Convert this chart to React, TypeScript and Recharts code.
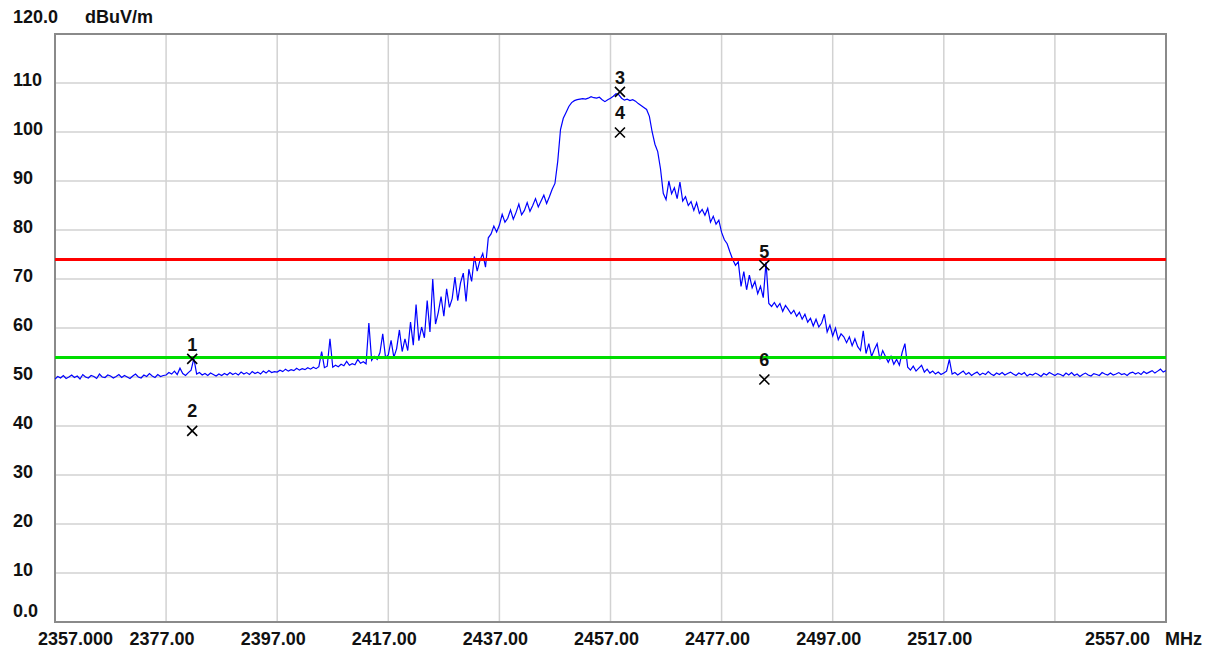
import React from 'react';
import {
  ComposedChart,
  Line,
  Scatter,
  XAxis,
  YAxis,
  CartesianGrid,
  ReferenceLine,
  ReferenceArea,
} from 'recharts';

// ---------- data ----------
const SWEEP_STEP = 0.5; // MHz between trace points
const FREQ_MIN = 2357;
const FREQ_MAX = 2557;
const LEVEL_MIN = 0;
const LEVEL_MAX = 120;

const lv2357 = [49.6, 50.1, 49.8, 50.3, 49.7, 50.0, 50.4, 49.9, 50.2, 49.6, 50.5, 50.0, 49.8, 50.3, 50.1, 49.7, 50.6, 50.0, 49.9, 50.4];
const lv2367 = [50.2, 49.8, 50.1, 50.5, 49.9, 50.3, 50.0, 49.7, 50.2, 50.6, 50.0, 49.8, 50.4, 50.1, 50.7, 50.2, 49.9, 50.5, 50.1, 50.3];
const lv2377 = [50.4, 50.9, 50.6, 51.2, 50.5, 51.8, 50.7, 50.3, 50.9, 51.4, 53.8, 50.6, 50.9, 50.4, 50.7, 50.3, 50.8, 50.5, 50.2, 50.6];
const lv2387 = [50.3, 50.7, 50.4, 50.9, 50.5, 50.8, 50.4, 51.0, 50.6, 50.9, 50.5, 51.1, 50.7, 51.0, 50.6, 51.2, 50.8, 51.3, 50.9, 51.1];
const lv2397 = [51.0, 51.4, 51.1, 51.6, 51.2, 51.5, 51.3, 51.8, 51.4, 51.7, 51.5, 51.9, 51.6, 52.0, 51.7, 52.1, 55.2, 51.9, 52.2, 57.8];
const lv2407 = [52.0, 52.4, 52.1, 52.6, 52.3, 53.2, 52.4, 52.7, 52.5, 53.6, 52.8, 53.1, 52.7, 61.0, 53.4, 54.2, 53.6, 55.0, 58.8, 54.0];
const lv2417 = [54.5, 57.5, 54.0, 55.8, 59.6, 55.2, 57.8, 55.4, 61.2, 56.5, 64.8, 57.4, 60.2, 58.0, 65.6, 59.2, 70.0, 60.8, 63.2, 66.4];
const lv2427 = [62.4, 68.0, 64.2, 66.0, 70.4, 65.6, 69.2, 71.2, 65.4, 72.0, 69.5, 74.6, 71.6, 73.8, 75.2, 72.4, 78.4, 79.2, 80.8, 79.6];
const lv2437 = [81.0, 83.2, 81.6, 82.4, 84.1, 82.2, 83.6, 85.3, 83.1, 84.0, 85.6, 83.8, 85.0, 86.4, 84.7, 85.9, 87.1, 85.4, 86.8, 88.3];
const lv2447 = [89.5, 94.0, 100.5, 102.8, 104.0, 105.2, 106.0, 106.4, 106.6, 106.7, 106.8, 106.7, 106.9, 107.2, 107.0, 106.9, 107.1, 106.6, 106.2, 106.6];
const lv2457 = [106.9, 107.3, 107.8, 107.6, 106.9, 106.5, 106.7, 106.4, 106.6, 106.3, 105.8, 105.4, 105.0, 104.6, 103.2, 100.0, 97.5, 96.0, 92.5, 87.5];
const lv2467 = [86.2, 90.0, 87.4, 88.6, 86.4, 89.8, 85.9, 86.8, 85.0, 85.8, 84.0, 85.6, 83.4, 84.2, 83.0, 84.4, 81.6, 82.8, 81.2, 82.0];
const lv2477 = [79.5, 78.0, 77.2, 75.5, 74.0, 72.8, 73.5, 68.5, 71.5, 67.8, 70.8, 68.2, 69.5, 67.0, 68.5, 66.2, 73.4, 65.0, 64.4, 65.2];
const lv2487 = [64.2, 65.0, 63.4, 64.6, 63.8, 62.9, 63.6, 62.4, 63.2, 61.8, 62.8, 61.2, 62.0, 60.4, 61.8, 60.2, 61.0, 62.8, 59.2, 60.6];
const lv2497 = [58.4, 60.0, 57.6, 58.8, 58.2, 57.0, 58.2, 56.4, 57.8, 56.2, 55.4, 59.4, 54.8, 56.8, 54.2, 55.6, 56.8, 53.6, 55.4, 54.2];
const lv2507 = [53.0, 54.2, 52.6, 53.6, 52.4, 55.0, 56.8, 52.0, 51.4, 52.2, 51.2, 51.8, 52.4, 51.0, 51.6, 50.8, 51.2, 50.6, 51.0, 50.5];
const lv2517 = [50.8, 51.2, 53.6, 50.6, 50.9, 50.4, 50.8, 51.2, 50.5, 50.9, 50.3, 50.7, 51.0, 50.4, 50.8, 50.5, 51.1, 50.6, 50.3, 50.8];
const lv2527 = [50.5, 50.9, 50.4, 50.7, 51.0, 50.6, 50.3, 50.8, 50.5, 50.9, 50.2, 50.6, 50.4, 50.8, 50.5, 50.1, 50.7, 50.4, 50.9, 50.6];
const lv2537 = [50.3, 50.7, 50.5, 50.2, 50.8, 50.4, 50.9, 50.3, 50.6, 50.1, 50.5, 50.8, 50.4, 50.2, 50.7, 50.5, 50.3, 50.9, 50.6, 50.4];
const lv2547 = [50.8, 50.4, 50.6, 50.9, 50.5, 50.7, 50.3, 50.8, 51.0, 50.6, 50.9, 50.5, 51.1, 50.7, 51.0, 51.3, 50.8, 51.2, 51.6, 51.0];
const lv2557 = [51.3];

const traceBlocks: [number, number[]][] = [
  [2357, lv2357], [2367, lv2367], [2377, lv2377], [2387, lv2387], [2397, lv2397],
  [2407, lv2407], [2417, lv2417], [2427, lv2427], [2437, lv2437], [2447, lv2447],
  [2457, lv2457], [2467, lv2467], [2477, lv2477], [2487, lv2487], [2497, lv2497],
  [2507, lv2507], [2517, lv2517], [2527, lv2527], [2537, lv2537], [2547, lv2547],
  [2557, lv2557],
];

const limitPeak = 74; // red
const limitAvg = 54; // green

const markerIds = ['1', '2', '3', '4', '5', '6'];
const markerFreqs = [2381.7, 2381.7, 2458.7, 2458.7, 2484.7, 2484.7];
const markerLevels = [53.7, 39.0, 108.2, 99.9, 72.8, 49.5];

const xTicks = [2357, 2377, 2397, 2417, 2437, 2457, 2477, 2497, 2517, 2537, 2557];
const xTickLabels = ['2357.000', '2377.00', '2397.00', '2417.00', '2437.00', '2457.00', '2477.00', '2497.00', '2517.00', '', '2557.00'];
const xUnit = 'MHz';
const yTicks = [0, 10, 20, 30, 40, 50, 60, 70, 80, 90, 100, 110, 120];
const yTickLabels = ['0.0', '10', '20', '30', '40', '50', '60', '70', '80', '90', '100', '110', '120.0'];
const yUnit = 'dBuV/m';

// ---------- derived tables ----------
const trace = traceBlocks.flatMap(([start, values]) =>
  values.map((level, j) => ({ freq: start + j * SWEEP_STEP, level }))
);
const markers = markerIds.map((id, i) => ({ id, freq: markerFreqs[i], level: markerLevels[i] }));

const FONT = '"Liberation Sans", Arial, sans-serif';
const textStyle = { fontFamily: FONT, fontWeight: 700, fontSize: 18, fill: '#111' } as const;

const XTick = (props: any) => {
  const { x, index } = props;
  const label = xTickLabels[index] ?? '';
  const y = 631;
  if (index === 0) {
    return (
      <text x={x - 17} y={y} dy="0.36em" textAnchor="start" {...textStyle}>{label}</text>
    );
  }
  if (index === xTicks.length - 1) {
    return (
      <g>
        <text x={x - 16} y={y} dy="0.36em" textAnchor="end" {...textStyle}>{label}</text>
        <text x={x - 1} y={y} dy="0.36em" textAnchor="start" {...textStyle}>{xUnit}</text>
      </g>
    );
  }
  if (!label) return <g />;
  return (
    <text x={x - 4} y={y} dy="0.36em" textAnchor="middle" {...textStyle}>{label}</text>
  );
};

const YTick = (props: any) => {
  const { y, payload, index } = props;
  const v = payload.value;
  const label = yTickLabels[index] ?? String(v);
  if (v === LEVEL_MAX) {
    return (
      <g>
        <text x={5} y={y - 17} dy="0.36em" textAnchor="start" {...textStyle}>{label}</text>
        <text x={77} y={y - 17} dy="0.36em" textAnchor="start" {...textStyle}>{yUnit}</text>
      </g>
    );
  }
  const off = v === LEVEL_MIN ? 11.5 : 3;
  return (
    <text x={5} y={y - off} dy="0.36em" textAnchor="start" {...textStyle}>{label}</text>
  );
};

const MarkerShape = (props: any) => {
  const { cx, cy, payload } = props;
  if (cx == null || cy == null) return <g />;
  const odd = Number(payload.id) % 2 === 1;
  const off = odd ? 14 : 20;
  const s = 5;
  return (
    <g>
      <path
        d={`M${cx - s},${cy - s}L${cx + s},${cy + s}M${cx + s},${cy - s}L${cx - s},${cy + s}`}
        stroke="#000"
        strokeWidth={1.6}
        fill="none"
      />
      <text x={cx} y={cy - off} dy="0.36em" textAnchor="middle" {...textStyle}>{payload.id}</text>
    </g>
  );
};

export default function App() {
  return (
    <div style={{ width: 1200, height: 644, background: '#fff' }}>
      <ComposedChart
        width={1200}
        height={644}
        margin={{ top: 26, right: 42, left: 0, bottom: 0 }}
      >
        <CartesianGrid stroke="#d2d2d2" strokeWidth={1.5} horizontal vertical />
        <XAxis
          dataKey="freq"
          type="number"
          domain={[FREQ_MIN, FREQ_MAX]}
          ticks={xTicks}
          interval={0}
          allowDataOverflow
          axisLine={false}
          tickLine={false}
          height={30}
          tick={<XTick />}
        />
        <YAxis
          type="number"
          domain={[LEVEL_MIN, LEVEL_MAX]}
          ticks={yTicks}
          interval={0}
          allowDataOverflow
          axisLine={false}
          tickLine={false}
          width={47}
          tick={<YTick />}
        />
        <ReferenceArea
          x1={FREQ_MIN}
          x2={FREQ_MAX}
          y1={LEVEL_MIN}
          y2={LEVEL_MAX}
          fill="none"
          fillOpacity={0}
          stroke="#8a8a8a"
          strokeWidth={2}
          ifOverflow="visible"
        />
        <Line
          data={trace}
          dataKey="level"
          type="linear"
          stroke="#0000ff"
          strokeWidth={1.2}
          dot={false}
          activeDot={false}
          isAnimationActive={false}
        />
        <ReferenceLine y={limitPeak} stroke="#ff0000" strokeWidth={3} />
        <ReferenceLine y={limitAvg} stroke="#00dd00" strokeWidth={3} />
        <Scatter
          data={markers}
          dataKey="level"
          shape={<MarkerShape />}
          isAnimationActive={false}
        />
      </ComposedChart>
    </div>
  );
}
